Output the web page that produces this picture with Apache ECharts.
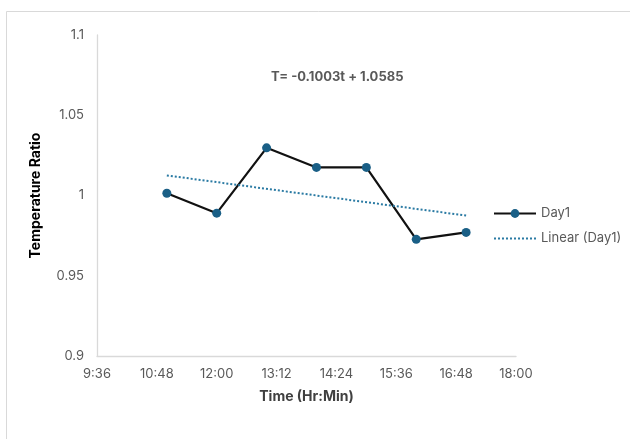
<!DOCTYPE html>
<html>
<head>
<meta charset="utf-8">
<script src="https://cdn.jsdelivr.net/npm/echarts@6/dist/echarts.min.js"></script>
<style>html,body{margin:0;padding:0;background:#fff;}#c{width:630px;height:439px;}</style>
</head>
<body>
<div id="c"></div>
<script>
var times = ["11:00","12:00","13:00","14:00","15:00","16:00","17:00"];
var day1 = [1.0014, 0.989, 1.0297, 1.0175, 1.0175, 0.9727, 0.977];
var trendTimes = ["11:00","17:00"];
var trendValues = [1.0125, 0.9875];
var equation = "T= -0.1003t + 1.0585";
var xTitle = "Time (Hr:Min)";
var yTitle = "Temperature Ratio";

function toMin(s){var p=s.split(":");return (+p[0])*60+(+p[1]);}
function fmt(v){var h=Math.floor(v/60),m=Math.round(v-h*60);return h+":"+(m<10?"0":"")+m;}

var font = "Inter, 'Open Sans', 'Noto Sans', sans-serif";
var chart = echarts.init(document.getElementById('c'), null, {renderer:'canvas'});
chart.setOption({
  animation:false,
  backgroundColor:'#fff',
  textStyle:{fontFamily:font},
  grid:{left:97,right:114,top:35,bottom:83,containLabel:false},
  xAxis:{type:'value',min:576,max:1080,interval:72,
    name:xTitle,nameLocation:'middle',nameGap:34,
    nameTextStyle:{fontFamily:font,fontSize:14,fontWeight:'bold',color:'#404040'},
    axisLine:{show:true,lineStyle:{color:'#d9d9d9',width:1.3}},
    axisTick:{show:false},splitLine:{show:false},
    axisLabel:{formatter:fmt,color:'#595959',fontSize:13,fontFamily:font,margin:12}},
  yAxis:{type:'value',min:0.9,max:1.1,interval:0.05,
    name:yTitle,nameLocation:'middle',nameGap:54,nameRotate:90,
    nameTextStyle:{fontFamily:font,fontSize:14,fontWeight:'bold',color:'#000'},
    axisLine:{show:true,lineStyle:{color:'#d9d9d9',width:1.3}},
    axisTick:{show:false},splitLine:{show:false},
    axisLabel:{formatter:function(v){return +v.toFixed(2)+'';},color:'#595959',fontSize:13,fontFamily:font,margin:13}},
  legend:{orient:'vertical',left:488,top:202,itemGap:12,itemWidth:42,itemHeight:11,
    textStyle:{color:'#595959',fontSize:13,fontFamily:font},
    data:[{name:'Day1'},{name:'Linear (Day1)',itemStyle:{color:'rgba(0,0,0,0)',borderWidth:0}}]},
  graphic:[
    {type:'text',style:{text:equation,x:271,y:71,fill:'#595959',font:'bold 13px '+font},silent:true},
    {type:'rect',shape:{x:6.5,y:11.5,width:700,height:500},style:{fill:'none',stroke:'#d9d9d9',lineWidth:1},silent:true,z:-1}
  ],
  series:[
    {name:'Day1',type:'line',data:times.map(function(t,i){return [toMin(t),day1[i]];}),
      lineStyle:{color:'#111',width:2.2},itemStyle:{color:'#1a5f86'},
      symbol:'circle',symbolSize:9,showSymbol:true},
    {name:'Linear (Day1)',type:'line',data:trendTimes.map(function(t,i){return [toMin(t),trendValues[i]];}),
      lineStyle:{color:'#2a7aa3',width:2,type:[2,2]},itemStyle:{color:'#2a7aa3'},
      symbol:'none',showSymbol:false}
  ]
});
</script>
</body>
</html>
